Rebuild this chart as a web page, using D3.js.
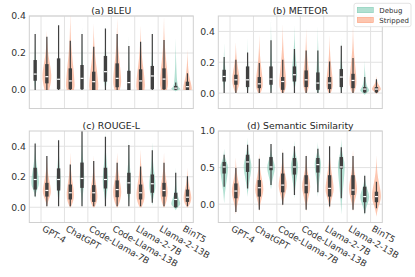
<!DOCTYPE html>
<html>
<head>
<meta charset="utf-8">
<script src="https://cdn.jsdelivr.net/npm/d3@7"></script>
<style>
  body { margin: 0; background: #fff; }
  text { font-family: "DejaVu Sans", sans-serif; }
</style>
</head>
<body>
<svg id="chart" width="415" height="277"></svg>
<script>
var models = ['GPT-4', 'ChatGPT', 'Code-Llama-7B', 'Code-Llama-13B', 'Llama-2-7B', 'Llama-2-13B', 'BinT5'];
var hues = ['Debug', 'Stripped'];
var hueColors = ['#66c2a5', '#fc8d62'];

/*
 * One row per model:
 * whisker low, q1, median, q3, whisker high, violin min, violin max, density peak at,
 * peak density (rel), density at min (rel), optional value where density has dropped to ~30%
 */
var bleuDebug = [
  [0, 0.05, 0.086, 0.162, 0.303, 0, 0.34, 0.08, 0.25, 0.1],
  [0, 0.004, 0.058, 0.171, 0.35, 0, 0.38, 0.05, 0.22, 0.15],
  [0, 0.004, 0.063, 0.135, 0.303, 0, 0.36, 0.04, 0.25, 0.15],
  [0, 0.045, 0.099, 0.184, 0.333, 0, 0.36, 0.09, 0.35, 0.05],
  [0, 0.0, 0.04, 0.104, 0.238, 0, 0.3, 0.03, 0.25, 0.2],
  [0, 0.004, 0.076, 0.13, 0.303, 0, 0.34, 0.06, 0.25, 0.15],
  [0, 0.002, 0.01, 0.022, 0.04, -0.008, 0.28, 0.006, 1.0, 0, 0.02]
];
var bleuStripped = [
  [0, 0.036, 0.072, 0.14, 0.288, 0, 0.32, 0.08, 0.95, 0.5],
  [0, 0.004, 0.049, 0.117, 0.266, 0, 0.42, 0.03, 0.9, 0.8],
  [0, 0.0, 0.045, 0.099, 0.234, 0, 0.36, 0.03, 0.95, 0.9],
  [0, 0.015, 0.063, 0.144, 0.303, 0, 0.39, 0.05, 0.85, 0.6],
  [0, 0.0, 0.049, 0.112, 0.261, 0, 0.35, 0.03, 0.9, 0.85],
  [0, 0.004, 0.059, 0.117, 0.27, 0, 0.4, 0.04, 0.85, 0.7],
  [0, 0.0, 0.018, 0.045, 0.09, 0, 0.22, 0.01, 0.9, 0.9, 0.08]
];
var meteorDebug = [
  [0, 0.075, 0.108, 0.151, 0.234, 0, 0.33, 0.11, 0.35, 0],
  [0, 0.039, 0.086, 0.173, 0.264, 0, 0.36, 0.08, 0.3, 0.1],
  [0, 0.054, 0.091, 0.173, 0.342, 0, 0.5, 0.08, 0.3, 0.05],
  [0, 0.075, 0.119, 0.173, 0.286, 0, 0.44, 0.12, 0.55, 0],
  [0, 0.021, 0.065, 0.134, 0.277, 0, 0.44, 0.05, 0.45, 0.2],
  [0, 0.039, 0.104, 0.156, 0.307, 0, 0.36, 0.1, 0.35, 0.05],
  [0, 0.004, 0.026, 0.039, 0.104, -0.012, 0.21, 0.015, 1.0, 0, 0.05]
];
var meteorStripped = [
  [0, 0.054, 0.086, 0.119, 0.216, 0, 0.33, 0.085, 0.8, 0.1],
  [0, 0.032, 0.06, 0.104, 0.195, 0, 0.38, 0.06, 0.75, 0.3],
  [0, 0.021, 0.075, 0.104, 0.216, 0, 0.45, 0.06, 0.75, 0.3],
  [0, 0.039, 0.086, 0.147, 0.277, 0, 0.42, 0.08, 0.7, 0.2],
  [0, 0.026, 0.065, 0.104, 0.205, 0, 0.38, 0.06, 0.7, 0.3],
  [0, 0.032, 0.082, 0.125, 0.227, 0, 0.45, 0.07, 0.75, 0.2],
  [0, 0.004, 0.026, 0.039, 0.09, -0.008, 0.11, 0.025, 1.0, 0, 0.06]
];
var rougeDebug = [
  [0.07, 0.116, 0.182, 0.259, 0.418, 0.06, 0.44, 0.16, 0.85, 0],
  [0.007, 0.11, 0.182, 0.255, 0.44, 0, 0.46, 0.17, 0.45, 0],
  [0.007, 0.127, 0.189, 0.293, 0.506, 0, 0.52, 0.18, 0.5, 0],
  [0.007, 0.123, 0.182, 0.259, 0.462, 0, 0.5, 0.17, 0.6, 0],
  [0.007, 0.088, 0.16, 0.226, 0.409, 0, 0.45, 0.15, 0.5, 0],
  [0.029, 0.095, 0.154, 0.215, 0.374, 0.01, 0.43, 0.14, 0.7, 0],
  [-0.004, 0.0, 0.051, 0.095, 0.226, -0.02, 0.26, 0.02, 1.0, 0, 0.08]
];
var rougeStripped = [
  [0.007, 0.07, 0.11, 0.16, 0.336, 0, 0.34, 0.1, 0.9, 0],
  [0.007, 0.051, 0.095, 0.149, 0.281, 0, 0.36, 0.08, 0.8, 0.1],
  [0.007, 0.035, 0.095, 0.145, 0.303, 0, 0.34, 0.07, 0.8, 0.2],
  [0.007, 0.066, 0.116, 0.176, 0.292, 0, 0.36, 0.1, 0.9, 0.1],
  [0.007, 0.051, 0.095, 0.149, 0.268, 0, 0.38, 0.08, 0.9, 0.2],
  [0.007, 0.07, 0.11, 0.16, 0.292, 0, 0.36, 0.1, 0.8, 0.1],
  [0.007, 0.035, 0.066, 0.116, 0.204, 0, 0.26, 0.06, 0.85, 0.1]
];
var semDebug = [
  [0.239, 0.419, 0.509, 0.577, 0.676, 0.01, 0.76, 0.5, 0.85, 0],
  [0.216, 0.441, 0.577, 0.676, 0.811, 0.1, 0.91, 0.52, 0.85, 0],
  [0.261, 0.464, 0.509, 0.644, 0.824, 0.2, 0.82, 0.5, 0.85, 0],
  [0.126, 0.405, 0.509, 0.631, 0.793, 0.08, 0.87, 0.52, 0.8, 0],
  [0.162, 0.432, 0.541, 0.631, 0.757, 0.1, 0.85, 0.55, 0.7, 0],
  [0.081, 0.486, 0.509, 0.644, 0.779, -0.14, 0.9, 0.52, 0.75, 0],
  [-0.122, 0.027, 0.104, 0.239, 0.387, -0.15, 0.42, 0.1, 1.0, 0]
];
var semStripped = [
  [-0.108, 0.081, 0.18, 0.284, 0.495, -0.14, 0.64, 0.17, 0.9, 0],
  [-0.077, 0.104, 0.225, 0.329, 0.622, -0.1, 0.7, 0.2, 0.9, 0],
  [-0.009, 0.162, 0.261, 0.419, 0.703, -0.03, 0.76, 0.25, 0.9, 0],
  [-0.077, 0.149, 0.261, 0.396, 0.658, -0.1, 0.7, 0.24, 0.9, 0],
  [-0.03, 0.104, 0.216, 0.396, 0.793, -0.07, 0.83, 0.2, 0.9, 0],
  [-0.077, 0.126, 0.194, 0.396, 0.658, -0.1, 0.75, 0.2, 0.9, 0],
  [-0.054, 0.027, 0.104, 0.171, 0.306, -0.17, 0.67, 0.1, 1.0, 0]
];

var ticksSmall = [0, 0.2, 0.4];
var ticksSem = [0, 0.5, 1.0];

var panels = [
  { title: '(a) BLEU', series: [bleuDebug, bleuStripped], domain: [-0.1, 0.4], ticks: ticksSmall, col: 0, row: 0 },
  { title: '(b) METEOR', series: [meteorDebug, meteorStripped], domain: [-0.1, 0.5], ticks: ticksSmall, col: 1, row: 0 },
  { title: '(c) ROUGE-L', series: [rougeDebug, rougeStripped], domain: [-0.1, 0.5], ticks: ticksSmall, col: 0, row: 1 },
  { title: '(d) Semantic Similarity', series: [semDebug, semStripped], domain: [-0.25, 1.0], ticks: ticksSem, col: 1, row: 1 }
];

var colX = [[29.3, 193.3], [218.3, 382.3]];
var rowY = [[16, 108.5], [131, 222.5]];

var svg = d3.select('#chart');
var defs = svg.append('defs');

/*
 * Outline of a violin as (value, relative density) control points
 */
function violinShape(r) {
  var vmin = r[5], vmax = r[6], pk = r[7], base = r[9];
  var s = r.length > 10 ? r[10] : pk + (vmax - pk) * 0.45;
  var pts = [];
  if (base > 0) {
    pts.push([vmin, base], [vmin + (pk - vmin) * 0.5, base + (1 - base) * 0.75]);
  } else {
    pts.push([vmin, 0], [vmin + (pk - vmin) * 0.35, 0.2], [vmin + (pk - vmin) * 0.7, 0.7]);
  }
  pts.push([pk, 1],
    [pk + (s - pk) * 0.45, 0.75],
    [s, 0.3],
    [s + (vmax - s) * 0.45, 0.08],
    [vmax, 0]);
  return pts;
}

panels.forEach(function(p, i) {
  var xr = colX[p.col], yr = rowY[p.row];
  var x = d3.scaleBand().domain(models).range(xr);
  var y = d3.scaleLinear().domain(p.domain).range([yr[1], yr[0]]);
  var bw = x.bandwidth();
  var hw = bw * 0.21;

  var g = svg.append('g').attr('class', 'panel');

  // grid
  g.selectAll('.grid-x').data(models).enter().append('line')
    .attr('class', 'grid-x')
    .attr('x1', function(d) { return x(d) + bw / 2; })
    .attr('x2', function(d) { return x(d) + bw / 2; })
    .attr('y1', yr[0]).attr('y2', yr[1])
    .attr('stroke', '#e2e2e2').attr('stroke-width', 1);
  g.selectAll('.grid-y').data(p.ticks).enter().append('line')
    .attr('class', 'grid-y')
    .attr('x1', xr[0]).attr('x2', xr[1])
    .attr('y1', function(d) { return y(d); })
    .attr('y2', function(d) { return y(d); })
    .attr('stroke', '#e2e2e2').attr('stroke-width', 1);

  defs.append('clipPath').attr('id', 'clip' + i)
    .append('rect')
    .attr('x', xr[0]).attr('y', yr[0])
    .attr('width', xr[1] - xr[0]).attr('height', yr[1] - yr[0]);

  var plot = g.append('g').attr('clip-path', 'url(#clip' + i + ')');

  p.series.forEach(function(rows, h) {
    var off = (h === 0 ? -0.25 : 0.25) * bw;
    rows.forEach(function(r, m) {
      var cx = x(models[m]) + bw / 2 + off;
      var peak = r[8];
      var area = d3.area()
        .y(function(d) { return y(d[0]); })
        .x0(function(d) { return cx - d[1] * peak * hw; })
        .x1(function(d) { return cx + d[1] * peak * hw; })
        .curve(d3.curveBasis);

      plot.append('path')
        .attr('class', 'violin')
        .attr('d', area(violinShape(r)))
        .attr('fill', hueColors[h])
        .attr('fill-opacity', 0.5);

      // whisker
      plot.append('line')
        .attr('x1', cx).attr('x2', cx)
        .attr('y1', y(r[0])).attr('y2', y(r[4]))
        .attr('stroke', '#404040').attr('stroke-width', 1.2);
      // box
      plot.append('rect')
        .attr('x', cx - 1.7).attr('width', 3.4)
        .attr('y', y(r[3])).attr('height', y(r[1]) - y(r[3]))
        .attr('fill', '#404040');
      // median
      plot.append('rect')
        .attr('x', cx - 1.5).attr('width', 3)
        .attr('y', y(r[2]) - 0.6).attr('height', 1.2)
        .attr('fill', '#fff');
    });
  });

  // frame
  g.append('rect')
    .attr('x', xr[0]).attr('y', yr[0])
    .attr('width', xr[1] - xr[0]).attr('height', yr[1] - yr[0])
    .attr('fill', 'none').attr('stroke', '#d0d0d0').attr('stroke-width', 1);

  // y axis
  var yAxis = g.append('g')
    .attr('transform', 'translate(' + xr[0] + ',0)')
    .call(d3.axisLeft(y).tickValues(p.ticks).tickSize(0).tickPadding(3.3).tickFormat(d3.format('.1f')));
  yAxis.select('.domain').remove();
  yAxis.selectAll('text')
    .attr('font-size', 9.3)
    .attr('font-family', '"DejaVu Sans", sans-serif')
    .attr('fill', '#333');

  // title
  g.append('text')
    .attr('x', (xr[0] + xr[1]) / 2).attr('y', yr[0] - 2.5)
    .attr('text-anchor', 'middle')
    .attr('font-size', 9.3)
    .attr('fill', '#262626')
    .text(p.title);

  // x labels on the bottom row
  if (p.row === 1) {
    var xAxis = g.append('g')
      .attr('transform', 'translate(0,' + yr[1] + ')')
      .call(d3.axisBottom(x).tickSize(0));
    xAxis.select('.domain').remove();
    xAxis.selectAll('text')
      .attr('x', 0).attr('y', 0).attr('dy', 0)
      .attr('text-anchor', 'start')
      .attr('transform', 'translate(0.5,8) rotate(30)')
      .attr('font-size', 8.9)
      .attr('font-family', '"DejaVu Sans", sans-serif')
      .attr('fill', '#333');
  }
});

/*
 * Legend
 */
var legend = svg.append('g').attr('class', 'legend');
legend.append('rect')
  .attr('x', 354).attr('y', 3.3).attr('width', 57).attr('height', 23.4)
  .attr('rx', 2).attr('fill', '#fff').attr('fill-opacity', 0.85)
  .attr('stroke', '#dcdcdc').attr('stroke-width', 0.8);
var item = legend.selectAll('.item').data(hues).enter().append('g')
  .attr('class', 'item')
  .attr('transform', function(d, i) { return 'translate(357.3,' + (7.3 + i * 10) + ')'; });
item.append('rect')
  .attr('width', 16).attr('height', 5.4)
  .attr('fill', function(d, i) { return hueColors[i]; })
  .attr('fill-opacity', 0.5)
  .attr('stroke', function(d, i) { return hueColors[i]; })
  .attr('stroke-opacity', 0.7)
  .attr('stroke-width', 0.6);
item.append('text')
  .attr('x', 22).attr('y', 5.2)
  .attr('font-size', 7)
  .attr('fill', '#333')
  .text(function(d) { return d; });
</script>
</body>
</html>
